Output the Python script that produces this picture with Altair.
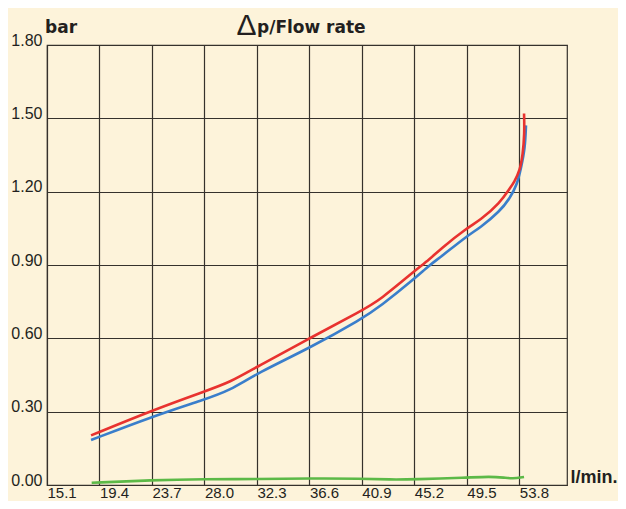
import altair as alt
import pandas as pd

# ---- data ----
x_ticks = [15.1, 19.4, 23.7, 28.0, 32.3, 36.6, 40.9, 45.2, 49.5, 53.8]
y_ticks = [0.0, 0.3, 0.6, 0.9, 1.2, 1.5, 1.8]

red_x = [18.71, 23.70, 27.96, 30.10, 32.30, 36.65, 40.91, 42.39, 45.17, 46.48, 47.30,
         49.51, 50.58, 52.22, 53.04, 53.37, 53.86, 54.08, 54.23, 54.19]
red_y = [0.203, 0.305, 0.382, 0.420, 0.484, 0.601, 0.714, 0.757, 0.874, 0.924, 0.964,
         1.052, 1.082, 1.154, 1.215, 1.238, 1.288, 1.350, 1.438, 1.520]

blue_x = [18.71, 23.70, 27.96, 30.10, 32.30, 36.65, 40.91, 42.39, 45.17, 46.48, 47.30,
          49.51, 50.58, 52.22, 53.04, 53.61, 53.94, 54.27, 54.35]
blue_y = [0.184, 0.280, 0.349, 0.387, 0.457, 0.561, 0.680, 0.730, 0.842, 0.901, 0.930,
          1.019, 1.052, 1.120, 1.174, 1.228, 1.296, 1.377, 1.471]

green_x = [18.76, 23.68, 28.05, 32.31, 36.65, 40.91, 43.21, 45.17, 49.51, 51.39, 52.63, 53.20, 54.19]
green_y = [0.009, 0.020, 0.024, 0.024, 0.027, 0.026, 0.022, 0.023, 0.030, 0.035, 0.030, 0.026, 0.033]

series_names = ["blue", "red", "green"]
series_colors = ["#3a7ecb", "#e8322f", "#5cb947"]

rows = []
for name, xs, ys in [("blue", blue_x, blue_y), ("red", red_x, red_y), ("green", green_x, green_y)]:
    for i, (a, b) in enumerate(zip(xs, ys)):
        rows.append({"series": name, "i": i, "flow": a, "dp": b})
df = pd.DataFrame(rows)

BG = "#fdf3da"
GRID = "#35312c"
FONT = "Liberation Sans"
BOLD_FONT = "DejaVu Sans"

x_scale = alt.Scale(domain=[15.1, 57.71], nice=False, zero=False)
y_scale = alt.Scale(domain=[0, 1.8], nice=False)

lines = alt.Chart(df).mark_line(strokeWidth=2.6, interpolate="basis").encode(
    x=alt.X("flow:Q", scale=x_scale, title=None,
            axis=alt.Axis(values=x_ticks, format=".1f", grid=True, gridColor=GRID, gridWidth=1.2,
                          domain=False, ticks=False, labelAlign="left", labelPadding=0,
                          labelFontSize=15, labelFont=FONT, labelColor="#231f20",
                          labelOverlap=False, labelFlush=False, labelBaseline="top")),
    y=alt.Y("dp:Q", scale=y_scale, title=None,
            axis=alt.Axis(values=y_ticks, format=".2f", grid=True, gridColor=GRID, gridWidth=1.2,
                          domain=False, ticks=False, labelPadding=5, labelBaseline="alphabetic",
                          labelFontSize=16, labelFont=FONT, labelColor="#231f20",
                          labelOverlap=False, labelFlush=False)),
    color=alt.Color("series:N", scale=alt.Scale(domain=series_names, range=series_colors), legend=None),
    order=alt.Order("i:Q"),
    detail="series:N",
)

def label(txt, x, y, size, weight="bold", font=BOLD_FONT):
    return alt.Chart(pd.DataFrame({"t": [txt]})).mark_text(
        align="left", baseline="alphabetic", font=font, fontSize=size, fontWeight=weight, color="#231f20"
    ).encode(text="t:N", x=alt.value(x), y=alt.value(y))

chart = alt.layer(
    lines,
    label("bar", -2, -11.7, 17),
    label("\u0394", 189.5, -10, 30, "normal", FONT),
    label("p/Flow rate", 210, -11.7, 17),
    label("l/min.", 523.5, 437.7, 18, "bold", FONT),
).properties(
    width=520, height=440,
    background=BG,
    padding={"left": 39, "top": 37, "right": 51, "bottom": 16},
    autosize=alt.AutoSizeParams(type="none"),
).configure_view(stroke=GRID, strokeWidth=1.2, fill=BG)

chart.save("out.html", embed_options={"renderer": "svg", "actions": False})
